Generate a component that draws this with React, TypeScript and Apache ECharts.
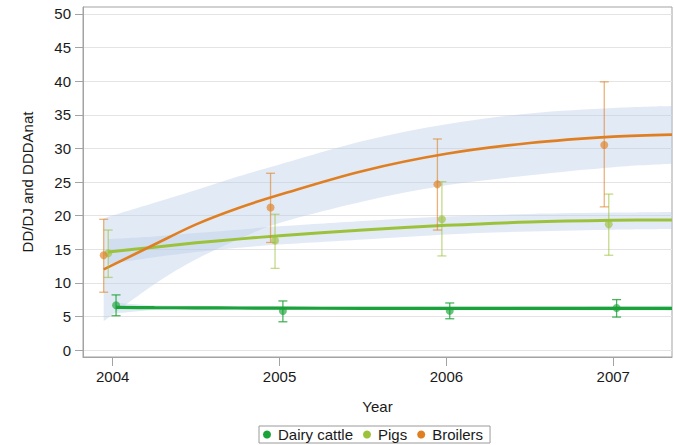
import { useEffect, useRef } from "react";
import * as echarts from "echarts";

const years = [2004, 2005, 2006, 2007];
const yTicks = [0, 5, 10, 15, 20, 25, 30, 35, 40, 45, 50];

// observed means with error bars (lo / hi), one per year
const dairyMean = [6.65, 5.8, 5.85, 6.25];
const dairyLo = [5.1, 4.2, 4.65, 4.9];
const dairyHi = [8.2, 7.3, 7.0, 7.5];

const pigsMean = [14.4, 16.3, 19.45, 18.7];
const pigsLo = [10.8, 12.15, 14.0, 14.1];
const pigsHi = [17.85, 20.2, 25.05, 23.2];

const broilersMean = [14.1, 21.2, 24.65, 30.5];
const broilersLo = [8.6, 16.0, 17.85, 21.3];
const broilersHi = [19.45, 26.3, 31.4, 39.9];

// fitted curves and confidence bands, read at these years
const fitYears = [2004.25, 2004.5, 2004.75, 2005, 2005.5, 2006, 2006.5, 2007, 2007.352];

const dairyFit = [6.35, 6.3, 6.28, 6.25, 6.23, 6.2, 6.2, 6.2, 6.2, 6.2];
const dairyBandLo = [5.45, 5.95, 5.97, 5.97, 5.97, 5.95, 5.92, 5.9, 5.87, 5.85];
const dairyBandHi = [7.05, 6.65, 6.6, 6.56, 6.52, 6.48, 6.48, 6.5, 6.55, 6.6];

const pigsFit = [14.6, 15.3, 15.95, 16.5, 17.0, 17.85, 18.55, 19.05, 19.3, 19.35];
const pigsBandLo = [12.8, 13.8, 14.6, 15.2, 15.7, 16.45, 17.2, 17.65, 17.9, 18.0];
const pigsBandHi = [16.5, 16.9, 17.4, 17.9, 18.4, 19.2, 19.85, 20.25, 20.45, 20.55];

const broilersFit = [12.0, 15.7, 18.7, 21.1, 23.1, 26.65, 29.2, 30.8, 31.75, 32.05];
const broilersBandLo = [4.3, 9.8, 13.5, 16.4, 18.9, 22.1, 24.5, 26.0, 27.2, 27.7];
const broilersBandHi = [19.6, 21.9, 23.8, 25.8, 27.6, 31.1, 33.6, 35.2, 36.0, 36.3];

// each group is drawn slightly beside the year (in years)
const dodge = { dairy: 0.02, pigs: -0.027, broilers: -0.054 };

const FONT = "'Liberation Sans', Arial, sans-serif";
const FRAME = "#a3a3a3";
const TEXT = "#1a1a1a";
const BAND = "rgba(185,205,230,0.42)";
const DAIRY = "#1aa338";
const PIGS = "#9cc23c";
const BROILERS = "#e07f22";

type Pt = number[];

// catmull-rom through screen points
function curveThrough(pts: Pt[], start: string) {
  let d = `${start}${pts[0][0]},${pts[0][1]}`;
  for (let i = 0; i < pts.length - 1; i++) {
    const p0 = pts[i - 1] || pts[i];
    const p1 = pts[i];
    const p2 = pts[i + 1];
    const p3 = pts[i + 2] || p2;
    const c1x = p1[0] + (p2[0] - p0[0]) / 6;
    const c1y = p1[1] + (p2[1] - p0[1]) / 6;
    const c2x = p2[0] - (p3[0] - p1[0]) / 6;
    const c2y = p2[1] - (p3[1] - p1[1]) / 6;
    d += `C${c1x},${c1y} ${c2x},${c2y} ${p2[0]},${p2[1]}`;
  }
  return d;
}

function bandSeries(xs: number[], lo: number[], hi: number[]) {
  return {
    type: "custom",
    silent: true,
    clip: true,
    z: 1,
    data: xs.map((x, i) => [x, lo[i], hi[i]]),
    encode: { x: 0, y: [1, 2] },
    renderItem: (params: any, api: any) => {
      if (params.dataIndex !== 0) return null;
      const upper = xs.map((x, i) => api.coord([x, hi[i]]));
      const lower = xs.map((x, i) => api.coord([x, lo[i]])).reverse();
      const d = curveThrough(upper, "M") + curveThrough(lower, "L") + "Z";
      return { type: "path", shape: { pathData: d }, style: { fill: BAND, stroke: null } };
    },
  };
}

function fitSeries(name: string, xs: number[], ys: number[], color: string, width: number, z: number) {
  return {
    name,
    type: "line",
    data: xs.map((x, i) => [x, ys[i]]),
    smooth: 0.35,
    showSymbol: false,
    silent: true,
    lineStyle: { color, width },
    z,
  };
}

function errorSeries(xs: number[], lo: number[], hi: number[], stroke: string) {
  return {
    type: "custom",
    silent: true,
    z: 5,
    data: xs.map((x, i) => [x, lo[i], hi[i]]),
    encode: { x: 0, y: [1, 2] },
    renderItem: (_params: any, api: any) => {
      const x = api.value(0);
      const top = api.coord([x, api.value(2)]);
      const bot = api.coord([x, api.value(1)]);
      const w = 4.5;
      const style = { stroke, lineWidth: 1.3 };
      return {
        type: "group",
        children: [
          { type: "line", shape: { x1: top[0], y1: top[1], x2: bot[0], y2: bot[1] }, style },
          { type: "line", shape: { x1: top[0] - w, y1: top[1], x2: top[0] + w, y2: top[1] }, style },
          { type: "line", shape: { x1: bot[0] - w, y1: bot[1], x2: bot[0] + w, y2: bot[1] }, style },
        ],
      };
    },
  };
}

function pointSeries(name: string, xs: number[], ys: number[], color: string) {
  return {
    name,
    type: "scatter",
    data: xs.map((x, i) => [x, ys[i]]),
    symbol: "circle",
    symbolSize: 8,
    itemStyle: { color, opacity: 0.65 },
    z: 6,
  };
}

export default function App() {
  const chartRef = useRef<HTMLDivElement>(null);

  useEffect(() => {
    if (!chartRef.current) return;
    document.body.style.margin = "0";
    const chart = echarts.init(chartRef.current, null, { renderer: "svg" });

    const dairyX = years.map((y) => y + dodge.dairy);
    const pigsX = years.map((y) => y + dodge.pigs);
    const broilersX = years.map((y) => y + dodge.broilers);

    const dairyFitX = [dairyX[0], ...fitYears];
    const pigsFitX = [pigsX[0], ...fitYears];
    const broilersFitX = [broilersX[0], ...fitYears];

    chart.setOption({
      animation: false,
      grid: {
        left: 83,
        right: 2,
        top: 7,
        bottom: 88,
        show: true,
        borderColor: FRAME,
        borderWidth: 1,
      },
      legend: {
        left: 259,
        top: 426,
        icon: "circle",
        itemWidth: 12,
        itemHeight: 8,
        itemGap: 10,
        padding: [1, 7, 1, 4],
        borderColor: "#9a9a9a",
        borderWidth: 1,
        selectedMode: false,
        textStyle: { fontSize: 15, color: TEXT, fontFamily: FONT },
        data: [
          { name: "Dairy cattle", itemStyle: { color: DAIRY, opacity: 1 } },
          { name: "Pigs", itemStyle: { color: PIGS, opacity: 1 } },
          { name: "Broilers", itemStyle: { color: BROILERS, opacity: 1 } },
        ],
      },
      xAxis: {
        type: "value",
        min: 2003.822,
        max: 2007.352,
        name: "Year",
        nameLocation: "middle",
        nameGap: 42,
        nameTextStyle: { fontSize: 15, color: TEXT, fontFamily: FONT },
        axisLine: { show: true, onZero: false, lineStyle: { color: FRAME } },
        axisTick: { show: true, length: 9, customValues: years, lineStyle: { color: FRAME } },
        axisLabel: {
          customValues: years,
          formatter: (v: number) => String(v),
          margin: 12,
          fontSize: 15,
          color: TEXT,
          fontFamily: FONT,
        },
        splitLine: { show: false },
      },
      yAxis: {
        type: "value",
        min: -1.04,
        max: 51.04,
        name: "DD/DJ and DDDAnat",
        nameLocation: "middle",
        nameGap: 48,
        nameTextStyle: { fontSize: 15, color: TEXT, fontFamily: FONT },
        axisLine: { show: true, onZero: false, lineStyle: { color: FRAME } },
        axisTick: { show: true, length: 8, customValues: yTicks, lineStyle: { color: FRAME } },
        axisLabel: { customValues: yTicks, margin: 12, fontSize: 15, color: TEXT, fontFamily: FONT },
        splitLine: { show: true, lineStyle: { color: "#e4e4e4", width: 1 } },
      },
      series: [
        bandSeries(broilersFitX, broilersBandLo, broilersBandHi),
        bandSeries(pigsFitX, pigsBandLo, pigsBandHi),
        bandSeries(dairyFitX, dairyBandLo, dairyBandHi),
        fitSeries("Dairy cattle fit", dairyFitX, dairyFit, DAIRY, 3.2, 2),
        fitSeries("Pigs fit", pigsFitX, pigsFit, PIGS, 3, 3),
        fitSeries("Broilers fit", broilersFitX, broilersFit, BROILERS, 2.6, 4),
        errorSeries(dairyX, dairyLo, dairyHi, "rgba(26,163,56,0.8)"),
        errorSeries(pigsX, pigsLo, pigsHi, "rgba(156,194,60,0.6)"),
        errorSeries(broilersX, broilersLo, broilersHi, "rgba(224,127,34,0.6)"),
        pointSeries("Dairy cattle", dairyX, dairyMean, DAIRY),
        pointSeries("Pigs", pigsX, pigsMean, PIGS),
        pointSeries("Broilers", broilersX, broilersMean, BROILERS),
      ],
    });

    return () => {
      chart.dispose();
    };
  }, []);

  return <div ref={chartRef} style={{ width: "674px", height: "445px" }} />;
}
